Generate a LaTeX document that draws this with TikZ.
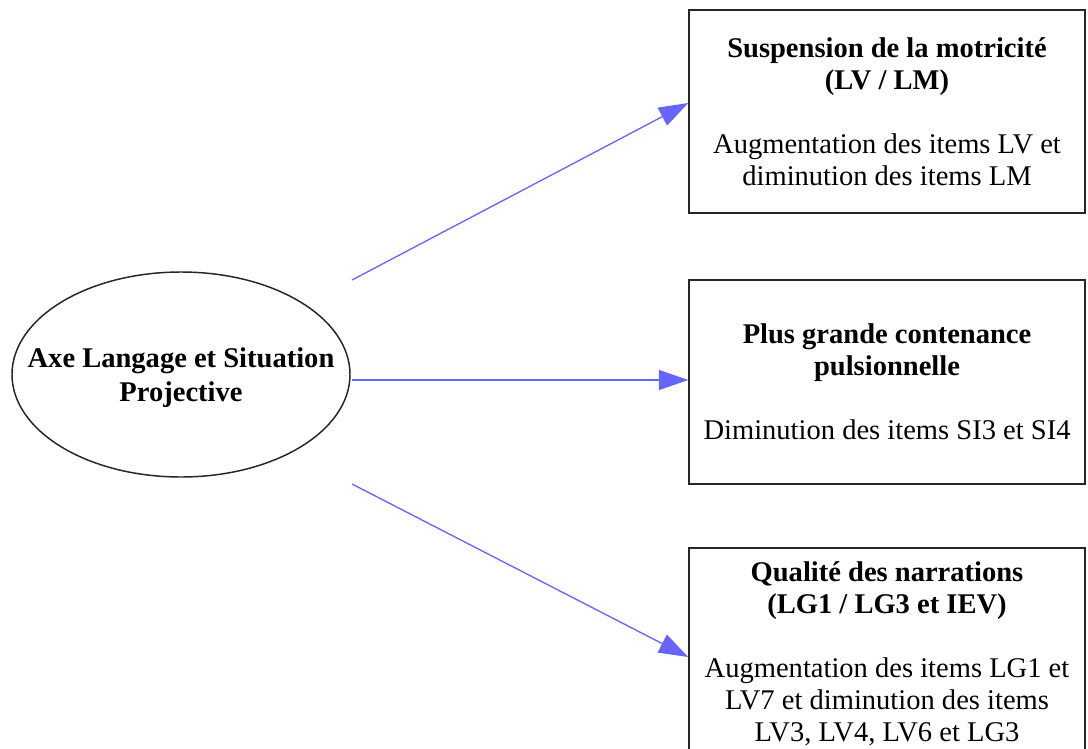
\documentclass[tikz,border=0pt]{standalone}
\usepackage{fontspec}
\setmainfont{Liberation Serif}
\usetikzlibrary{arrows.meta,shapes.geometric}
\definecolor{arrowblue}{RGB}{102,102,255}
\begin{document}
\begin{tikzpicture}[x=0.75pt,y=-0.75pt,
  boxnode/.style={draw=black!85, line width=1.1pt, rectangle, minimum width=297pt, align=center, inner sep=0pt, font=\fontsize{21.4}{24}\selectfont},
  ellnode/.style={draw=black!85, line width=1.1pt, ellipse, minimum width=253.5pt, minimum height=153.75pt, inner sep=0pt},
  elltext/.style={align=center, inner sep=0pt, font=\fontsize{21.4}{25.5}\selectfont\bfseries},
  conn/.style={draw=arrowblue, line width=1pt, -{Triangle[length=22pt,width=15pt]}}]
\clip (0,0) rectangle (1088,749);
\fill[white] (0,0) rectangle (1088,749);
\node[ellnode] (axe) at (181,374.5) {};
\node[elltext] (axetext) at (181,378) {Axe Langage et Situation\\Projective};
\node[boxnode, minimum height=152.25pt] (b1) at (887,111.5) {\textbf{Suspension de la motricité}\\\textbf{(LV / LM)}\\[24pt]Augmentation des items LV et\\diminution des items LM};
\node[boxnode, minimum height=153pt] (b2) at (887,382) {\textbf{Plus grande contenance}\\\textbf{pulsionnelle}\\[24pt]Diminution des items SI3 et SI4};
\node[boxnode, minimum height=158.25pt] (b3) at (887,653.5) {\textbf{Qualité des narrations}\\\textbf{(LG1 / LG3 et IEV)}\\[24pt]Augmentation des items LG1 et\\LV7 et diminution des items\\LV3, LV4, LV6 et LG3};
\coordinate (s1) at (352,280);
\coordinate (s2) at (352,380);
\coordinate (s3) at (352,484);
\path (b1.west) ++(0,-8.5) coordinate (e1);
\path (b2.west) ++(0,-2) coordinate (e2);
\path (b3.west) ++(0,3.5) coordinate (e3);
\draw[conn] (s1) -- (e1);
\draw[conn] (s2) -- (e2);
\draw[conn] (s3) -- (e3);
\end{tikzpicture}
\end{document}
